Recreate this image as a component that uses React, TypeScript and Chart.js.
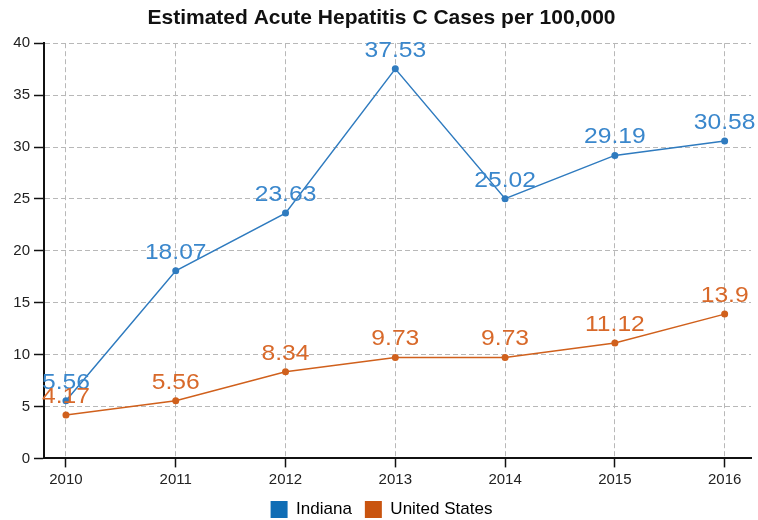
import React, { useEffect, useRef } from "react";
import { Chart, registerables } from "chart.js";

Chart.register(...registerables);

const years = [2010, 2011, 2012, 2013, 2014, 2015, 2016];
const indiana = [5.56, 18.07, 23.63, 37.53, 25.02, 29.19, 30.58];
const unitedStates = [4.17, 5.56, 8.34, 9.73, 9.73, 11.12, 13.9];
const indianaLabels = ["5.56", "18.07", "23.63", "37.53", "25.02", "29.19", "30.58"];
const usLabels = ["4.17", "5.56", "8.34", "9.73", "9.73", "11.12", "13.9"];

const BLUE = "#2f7bbf";
const ORANGE = "#d0601c";
const FONT = "'Liberation Sans', Arial, sans-serif";

const labelPlugin = {
  id: "pointLabels",
  afterDatasetsDraw(chart: any) {
    const ctx = chart.ctx;
    const sets = [indianaLabels, usLabels];
    const cols = ["#3a87cc", "#d8692a"];
    ctx.save();
    ctx.font = "22px " + FONT;
    ctx.textAlign = "center";
    ctx.textBaseline = "middle";
    chart.data.datasets.forEach((ds: any, i: number) => {
      const meta = chart.getDatasetMeta(i);
      ctx.fillStyle = cols[i];
      meta.data.forEach((pt: any, j: number) => {
        ctx.save();
        ctx.translate(pt.x, pt.y - 18);
        ctx.scale(1.12, 1);
        ctx.fillText(sets[i][j], 0, 0);
        ctx.restore();
      });
    });
    ctx.restore();
  },
};

export default function App() {
  const ref = useRef<HTMLCanvasElement>(null);
  useEffect(() => {
    if (!ref.current) return;
    const chart = new Chart(ref.current, {
      type: "line",
      data: {
        datasets: [
          {
            label: "Indiana",
            data: years.map((y, i) => ({ x: y, y: indiana[i] })),
            borderColor: BLUE,
            backgroundColor: BLUE,
            borderWidth: 1.5,
            pointRadius: 3.5,
            pointBackgroundColor: BLUE,
            pointBorderWidth: 0,
          },
          {
            label: "United States",
            data: years.map((y, i) => ({ x: y, y: unitedStates[i] })),
            borderColor: ORANGE,
            backgroundColor: ORANGE,
            borderWidth: 1.5,
            pointRadius: 3.5,
            pointBackgroundColor: ORANGE,
            pointBorderWidth: 0,
          },
        ],
      },
      options: {
        animation: false,
        responsive: true,
        maintainAspectRatio: false,
        layout: { padding: { left: 12, right: 7, top: 0, bottom: -8 } },
        plugins: {
          title: {
            display: true,
            text: "Estimated Acute Hepatitis C Cases per 100,000",
            color: "#111",
            font: { size: 21, weight: "bold", family: FONT },
            padding: { top: 6, bottom: 12 },
          },
          legend: {
            position: "bottom",
            labels: {
              color: "#222",
              font: { size: 17, family: FONT },
              boxWidth: 17,
              boxHeight: 17,
              padding: 13,
              generateLabels: (chart: any) =>
                chart.data.datasets.map((ds: any, i: number) => ({
                  text: ds.label,
                  fillStyle: i === 0 ? "#0f6db5" : "#c9540f",
                  strokeStyle: i === 0 ? "#0f6db5" : "#c9540f",
                  lineWidth: 0,
                  datasetIndex: i,
                })),
            },
          },
          tooltip: { enabled: false },
        },
        scales: {
          x: {
            type: "linear",
            min: 2009.8,
            max: 2016.24,
            afterBuildTicks: (scale: any) => {
              scale.ticks = years.map((y) => ({ value: y }));
            },
            afterFit: (scale: any) => {
              scale.height = 29.6;
            },
            ticks: {
              color: "#222",
              font: { size: 15, family: FONT },
              callback: (v: any) => String(v),
              padding: 3,
            },
            grid: {
              color: "#b8b8b8",
              lineWidth: 1,
              tickColor: "#111",
              tickLength: 9,
              tickWidth: 1.5,
            },
            border: { display: true, color: "#111", width: 2, dash: [5, 3] },
          },
          y: {
            min: 0,
            max: 40,
            afterFit: (scale: any) => {
              scale.width = 32;
            },
            ticks: {
              stepSize: 5,
              color: "#222",
              font: { size: 15, family: FONT },
              padding: 4,
            },
            grid: {
              color: "#b8b8b8",
              lineWidth: 1,
              tickColor: "#111",
              tickLength: 10,
              tickWidth: 1.5,
            },
            border: { display: true, color: "#111", width: 2, dash: [5, 3] },
          },
        },
      },
      plugins: [labelPlugin],
    });
    return () => chart.destroy();
  }, []);
  return (
    <div style={{ position: "fixed", left: 0, top: 0, width: 758, height: 520, background: "#fff" }}>
      <canvas ref={ref} />
    </div>
  );
}
